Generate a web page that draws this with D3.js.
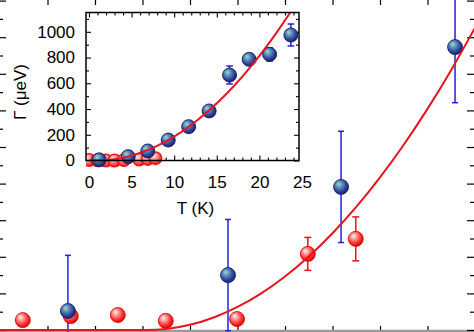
<!DOCTYPE html>
<html>
<head>
<meta charset="utf-8">
<script src="https://cdn.jsdelivr.net/npm/d3@7"></script>
<style>
  html, body { margin: 0; padding: 0; background: #fff; }
  svg { display: block; }
  text { font-family: "Liberation Sans", Arial, Helvetica, sans-serif; fill: #000; }
</style>
</head>
<body>
<svg id="chart" width="474" height="332"></svg>
<script>
// ---- main panel data (x in K, y in arbitrary Γ units) ----
const mainRedT   = [0.48, 1.49, 2.48, 3.49, 4.99, 6.48, 7.49];
const mainRedG   = [0.27, 0.38, 0.41, 0.25, 0.30, 2.08, 2.49];
const mainRedErr = [0.15, 0.15, 0.15, 0.15, 0.15, 0.45, 0.60];

const mainBlueT   = [1.43, 4.80, 7.18, 9.58];
const mainBlueG   = [0.52, 1.50, 3.91, 7.73];
const mainBlueErr = [1.52, 1.52, 1.52, 1.52];

// fitted curve, main panel
const mainFitT = [0, 3.09, 3.5, 4, 4.5, 5, 5.5, 6, 6.5, 7, 7.5, 8, 8.5, 9, 9.5, 10];
const mainFitG = [0, 0, 0.028, 0.142, 0.342, 0.629, 1.002, 1.462, 2.009, 2.642, 3.362, 4.168, 5.061, 6.041, 7.107, 8.26];

const mainXTicks = [1, 2, 3, 4, 5, 6, 7, 8, 9];
const mainYMajor = [0, 1, 2, 3, 4, 5, 6, 7, 8, 9];
const mainYMinor = [0.5, 1.5, 2.5, 3.5, 4.5, 5.5, 6.5, 7.5, 8.5];

// ---- inset data: Γ (μeV) vs T (K) ----
const insetRedT = [0.0, 1.0, 2.0, 3.0, 4.1, 5.9, 6.9, 7.8];
const insetRedG = [4, 2, 0, 0, 3, 8, 12, 18];

const insetBlueT   = [1.2, 4.6, 6.9, 9.3, 11.7, 14.1, 16.5, 18.8, 21.2, 23.7];
const insetBlueG   = [5, 30, 74, 159, 263, 385, 664, 786, 825, 975];
const insetBlueErr = [10, 10, 10, 12, 15, 18, 70, 30, 52, 85];

const insetFitT = [0, 0.84, 2, 3, 4, 5, 6, 7, 8, 10, 12, 14, 16, 18, 20, 22, 24];
const insetFitG = [0, 0, 3, 10, 22, 38, 59, 84, 114, 186, 276, 384, 509, 652, 813, 992, 1188];

const insetXTickLabels = [0, 5, 10, 15, 20, 25];
const insetYTickLabels = [0, 200, 400, 600, 800, 1000];
const insetXMinor = d3.range(0, 25, 1).filter(v => v % 5 !== 0);
const insetYMinor = [100, 300, 500, 700, 900, 1100];

const svg = d3.select("#chart");
const defs = svg.append("defs");

function sphere(id, stops) {
  const g = defs.append("radialGradient").attr("id", id)
    .attr("cx", "0.42").attr("cy", "0.4").attr("r", "0.62")
    .attr("fx", "0.34").attr("fy", "0.3");
  stops.forEach(([o, c]) => g.append("stop").attr("offset", o).attr("stop-color", c));
}
sphere("redBall",  [[0, "#fff6f6"], [0.28, "#ffa6a6"], [0.7, "#ff3030"], [1, "#dc0000"]]);
sphere("pinkBall", [[0, "#fff0f0"], [0.4, "#ff9a9a"], [0.8, "#ff3a3a"], [1, "#e00808"]]);
sphere("blueBall", [[0, "#a6d6cf"], [0.32, "#6196bc"], [0.72, "#2d4399"], [1, "#17206c"]]);

const RED = "#e8141c", BLUE = "#2222dd";

// ================= main panel =================
const x = d3.scaleLinear().domain([0, 10]).range([0, 475]);
const y = d3.scaleLinear().domain([0, 9]).range([330, 330 - 9 * 36.6]);

const main = svg.append("g");

// axes (ticks point inward)
main.append("g").attr("transform", "translate(0,-1)")
  .call(d3.axisTop(x).tickValues(mainXTicks).tickSize(-6).tickFormat(""))
  .call(g => g.select(".domain").remove());
main.append("g").attr("transform", "translate(0,331)")
  .call(d3.axisBottom(x).tickValues(mainXTicks).tickSize(-5).tickFormat(""))
  .call(g => g.select(".domain").remove());
main.append("line").attr("x1", 0).attr("x2", 474).attr("y1", 331).attr("y2", 331)
  .attr("stroke", "#9a9a9a").attr("stroke-width", 2.5);
[[mainYMajor, 7], [mainYMinor, 4]].forEach(([vals, len]) => {
  main.append("g").attr("transform", "translate(-1,0)")
    .call(d3.axisLeft(y).tickValues(vals).tickSize(-len).tickFormat(""))
    .call(g => g.select(".domain").remove());
  main.append("g").attr("transform", "translate(475,0)")
    .call(d3.axisRight(y).tickValues(vals).tickSize(-(len + 1)).tickFormat(""))
    .call(g => g.select(".domain").remove());
});
main.selectAll(".tick line").attr("stroke", "#000").attr("stroke-width", 1.2);

const mainRed = mainRedT.map((t, i) => ({ t, g: mainRedG[i], e: mainRedErr[i] }));
const mainBlue = mainBlueT.map((t, i) => ({ t, g: mainBlueG[i], e: mainBlueErr[i] }));

function errBars(g, data, sx, sy, color, cap, width) {
  const eb = g.append("g").attr("stroke", color).attr("stroke-width", width);
  data.forEach(d => {
    const cx = sx(d.t), y1 = sy(d.g + d.e), y2 = sy(d.g - d.e);
    eb.append("line").attr("x1", cx).attr("x2", cx).attr("y1", y1).attr("y2", y2);
    eb.append("line").attr("x1", cx - cap).attr("x2", cx + cap).attr("y1", y1).attr("y2", y1);
    eb.append("line").attr("x1", cx - cap).attr("x2", cx + cap).attr("y1", y2).attr("y2", y2);
  });
}
function balls(g, data, sx, sy, fill, stroke, r, sw) {
  g.append("g").selectAll("circle").data(data).join("circle")
    .attr("cx", d => sx(d.t)).attr("cy", d => sy(d.g)).attr("r", r)
    .attr("fill", `url(#${fill})`).attr("stroke", stroke).attr("stroke-width", sw);
}

errBars(main, mainRed, x, y, RED, 3.5, 1.5);
errBars(main, mainBlue, x, y, BLUE, 3, 1.5);
balls(main, mainRed, x, y, "redBall", "#d80000", 7.5, 0.8);
balls(main, mainBlue, x, y, "blueBall", "#121a60", 7.5, 0.8);

const mainFit = mainFitT.map((t, i) => ({ t, g: mainFitG[i] }));
main.append("path").datum(mainFit)
  .attr("fill", "none").attr("stroke", RED).attr("stroke-width", 2)
  .attr("d", d3.line().x(d => x(d.t)).y(d => y(d.g)).curve(d3.curveMonotoneX));

// ================= inset =================
const ix = d3.scaleLinear().domain([-0.35, 24.65]).range([86, 299]);
const iy = d3.scaleLinear().domain([0, 1150]).range([160.5, 12.5]);
const inset = svg.append("g");
const [L, R] = ix.range(), [B, T] = iy.range();

inset.append("rect").attr("x", L).attr("y", T).attr("width", R - L).attr("height", B - T)
  .attr("fill", "#fff");

defs.append("clipPath").attr("id", "insetClip")
  .append("rect").attr("x", L).attr("y", T - 10).attr("width", R - L).attr("height", B - T + 20);

const frameTicks = inset.append("g");
const xMajorIn = [0, 5, 10, 15, 20];
[[xMajorIn, 5], [insetXMinor, 3]].forEach(([vals, len]) => {
  frameTicks.append("g").attr("transform", `translate(0,${B})`)
    .call(d3.axisBottom(ix).tickValues(vals).tickSize(-len).tickFormat(""));
  frameTicks.append("g").attr("transform", `translate(0,${T})`)
    .call(d3.axisTop(ix).tickValues(vals).tickSize(-len).tickFormat(""));
});
[[insetYTickLabels, 5], [insetYMinor, 3]].forEach(([vals, len]) => {
  frameTicks.append("g").attr("transform", `translate(${L},0)`)
    .call(d3.axisLeft(iy).tickValues(vals).tickSize(-len).tickFormat(""));
  frameTicks.append("g").attr("transform", `translate(${R},0)`)
    .call(d3.axisRight(iy).tickValues(vals).tickSize(-len).tickFormat(""));
});
frameTicks.selectAll(".domain").remove();
frameTicks.selectAll(".tick line").attr("stroke", "#000").attr("stroke-width", 1.1);

// tick labels
inset.append("g").attr("transform", `translate(0,${B + 6})`)
  .call(d3.axisBottom(ix).tickValues(insetXTickLabels).tickSize(0).tickPadding(9).tickFormat(d3.format("d")))
  .call(g => g.select(".domain").remove())
  .selectAll("text").style("font-size", "17px").attr("fill", "#000");
inset.append("g").attr("transform", `translate(${L - 9},0)`)
  .call(d3.axisLeft(iy).tickValues(insetYTickLabels).tickSize(0).tickPadding(2).tickFormat(d3.format("d")))
  .call(g => g.select(".domain").remove())
  .selectAll("text").style("font-size", "17px").attr("fill", "#000");

inset.append("text").attr("x", (ix(0) + ix(25)) / 2).attr("y", 214)
  .attr("text-anchor", "middle").style("font-size", "17px").text("T (K)");
inset.append("text").attr("transform", "translate(26,92) rotate(-90)")
  .attr("text-anchor", "middle").style("font-size", "17px").text("Γ (μeV)");

const plotArea = inset.append("g").attr("clip-path", "url(#insetClip)");
const insetRed = insetRedT.map((t, i) => ({ t, g: insetRedG[i], e: 0 }));
const insetBlue = insetBlueT.map((t, i) => ({ t, g: insetBlueG[i], e: insetBlueErr[i] }));

balls(plotArea, insetRed, ix, iy, "pinkBall", "#f01010", 6.3, 1.3);
errBars(plotArea, insetBlue, ix, iy, BLUE, 3.3, 1.5);
balls(plotArea, insetBlue, ix, iy, "blueBall", "#121a60", 7, 0.9);

const insetFit = insetFitT.map((t, i) => ({ t, g: insetFitG[i] }));
const fitClip = defs.append("clipPath").attr("id", "fitClip");
fitClip.append("rect").attr("x", L).attr("y", T).attr("width", R - L).attr("height", B - T + 2);
inset.append("path").datum(insetFit).attr("clip-path", "url(#fitClip)")
  .attr("fill", "none").attr("stroke", RED).attr("stroke-width", 2)
  .attr("d", d3.line().x(d => ix(d.t)).y(d => iy(d.g)).curve(d3.curveMonotoneX));

inset.append("rect").attr("x", L).attr("y", T).attr("width", R - L).attr("height", B - T)
  .attr("fill", "none").attr("stroke", "#000").attr("stroke-width", 1.5);
</script>
</body>
</html>
